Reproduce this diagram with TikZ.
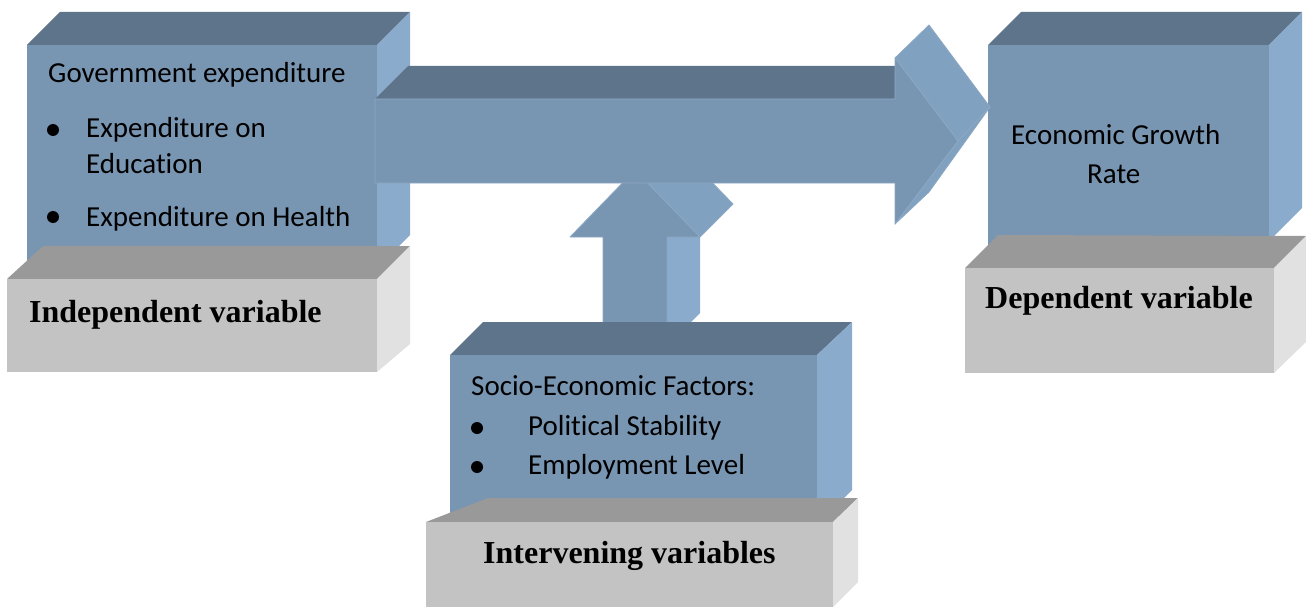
\documentclass[tikz,border=0pt]{standalone}
\usepackage{fontspec}
\setmainfont{Carlito}[Ligatures=NoCommon]
\newfontfamily\labelfont{Liberation Serif}

\definecolor{bluefront}{RGB}{120,149,178}
\definecolor{bluetop}{RGB}{94,116,139}
\definecolor{blueside}{RGB}{138,171,203}
\definecolor{headside}{RGB}{128,161,191}
\definecolor{edgehi}{RGB}{140,168,196}
\definecolor{greytop}{RGB}{153,153,153}
\definecolor{greyfront}{RGB}{195,195,195}
\definecolor{greyside}{RGB}{225,225,225}

\tikzset{
  bodytext/.style={font=\fontsize{29}{35}\selectfont, inner sep=0pt, anchor=base west},
  tagtext/.style={font=\labelfont\bfseries\fontsize{32}{38}\selectfont, inner sep=0pt, anchor=base west},
  frontface/.style={fill=bluefront},
  topface/.style={fill=bluetop},
  sideface/.style={fill=blueside},
  headface/.style={fill=headside, draw=edgehi, line width=0.8pt, line join=round},
  gtop/.style={fill=greytop},
  gfront/.style={fill=greyfront},
  gside/.style={fill=greyside},
}

\begin{document}
\begin{tikzpicture}[x=1pt, y=-1pt]
\useasboundingbox (0,0) rectangle (1306,607);

% ---- independent variable: blue block ----
\fill[topface]   (27,45) -- (377,45) -- (410,12) -- (60,12) -- cycle;
\fill[sideface]  (377,45) -- (410,12) -- (410,235) -- (377,268) -- cycle;
\fill[frontface] (27,45) rectangle (377,275);
% grey label block
\fill[gtop]   (7,279) -- (377,279) -- (410,246) -- (43,246) -- cycle;
\fill[gside]  (377,279) -- (410,246) -- (410,344) -- (377,372) -- cycle;
\fill[gfront] (7,279) rectangle (377,372);

% ---- dependent variable: blue block ----
\fill[topface]   (988,45) -- (1269,45) -- (1302,12) -- (1021,12) -- cycle;
\fill[sideface]  (1269,45) -- (1302,12) -- (1302,208) -- (1269,241) -- cycle;
\fill[frontface] (988,45) rectangle (1269,250);
% grey label block
\fill[gtop]   (965,268) -- (1274,268) -- (1306,236) -- (998,235) -- cycle;
\fill[gside]  (1274,268) -- (1306,236) -- (1306,342) -- (1274,373) -- cycle;
\fill[gfront] (965,268) rectangle (1274,373);

% ---- upward arrow from the intervening block ----
\fill[sideface] (667,346) -- (700,313) -- (700,204) -- (667,237) -- cycle;
\fill[headface] (635,170) -- (700,237) -- (733,204) -- (668,137) -- cycle;
\filldraw[frontface, draw=edgehi, line width=0.8pt, line join=round]
  (603,346) -- (603,237) -- (570,237) -- (635,170) -- (700,237) -- (667,237) -- (667,346);

% ---- horizontal arrow to the dependent block ----
\fill[topface]  (375,99) -- (895,99) -- (928,66) -- (408,66) -- cycle;
\fill[headface] (895,58) -- (929,25) -- (990,107) -- (958,141) -- cycle;
\fill[headface] (958,141) -- (990,107) -- (929,192) -- (895,224) -- cycle;
\filldraw[frontface, draw=edgehi, line width=0.8pt, line join=round]
  (375,99) -- (895,99) -- (895,58) -- (958,141) -- (895,224) -- (895,183) -- (375,183) -- cycle;

% ---- intervening variables: blue block ----
\fill[topface]   (450,355) -- (817,355) -- (852,322) -- (483,322) -- cycle;
\fill[sideface]  (817,355) -- (852,322) -- (852,490) -- (817,525) -- cycle;
\fill[frontface] (450,355) rectangle (817,515);
% grey label block
\fill[gtop]   (426,522) -- (833,522) -- (858,498) -- (488,498) -- cycle;
\fill[gside]  (833,522) -- (858,498) -- (858,582) -- (833,607) -- cycle;
\fill[gfront] (426,522) rectangle (833,607);

% ---- texts ----
\node[bodytext] (gov)  at (48,83)  {Government expenditure};
\node[bodytext] (edu1) at (86,138) {Expenditure on};
\node[bodytext] (edu2) at (86,173) {Education};
\node[bodytext] (hlth) at (86,226) {Expenditure on Health};
\fill (53,130) circle (6pt);
\fill (53,217) circle (6pt);
\node[tagtext] (indep) at (29,322) {Independent variable};

\node[bodytext] (egr1) at (1011,144) {Economic Growth};
\node[bodytext] (egr2) at (1087,183) {Rate};
\node[tagtext] (dep) at (985,308) {Dependent variable};

\node[bodytext] (socio) at (471,395) {Socio-Economic Factors:};
\node[bodytext] (pol)   at (528,435) {Political Stability};
\node[bodytext] (emp)   at (528,474) {Employment Level};
\fill (477,428) circle (6pt);
\fill (477,467) circle (6pt);
\node[tagtext] (intv) at (483,563) {Intervening variables};
\end{tikzpicture}
\end{document}
